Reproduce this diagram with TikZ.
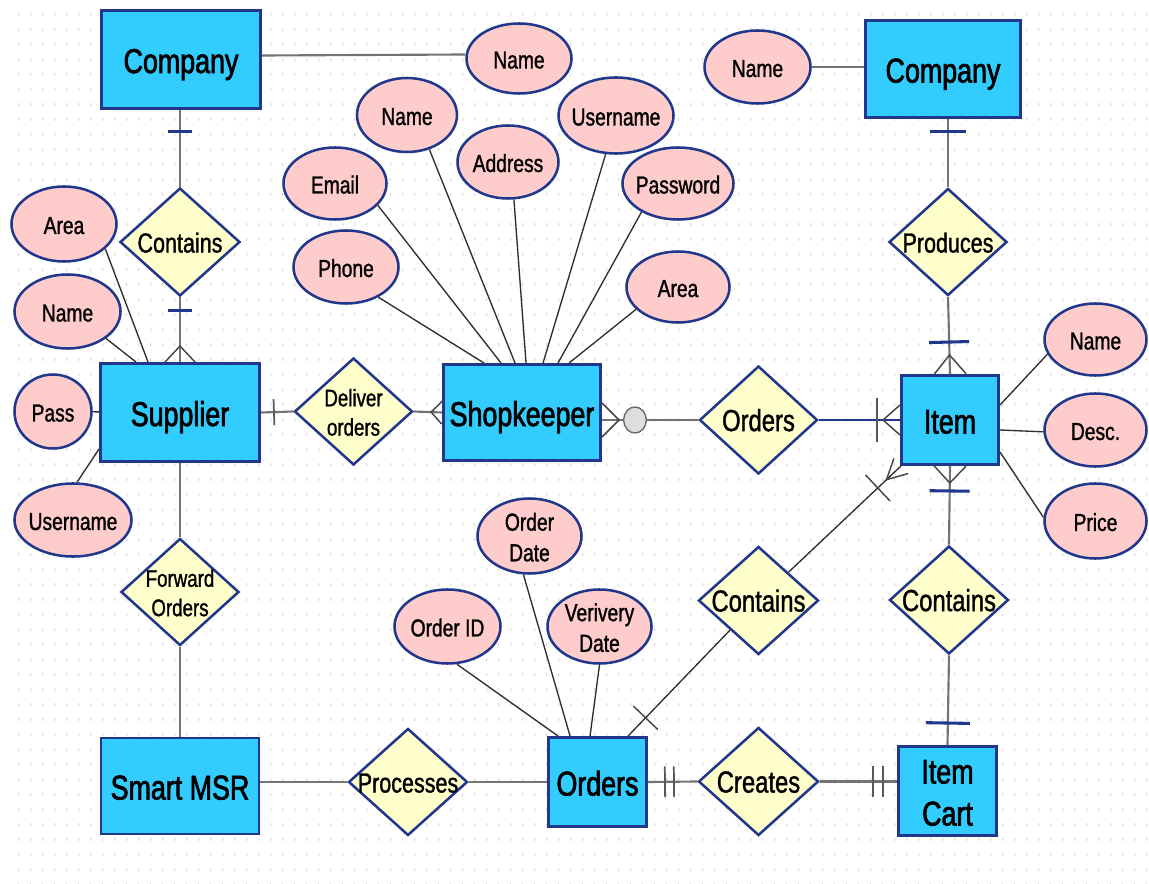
\documentclass[tikz,border=0pt]{standalone}
\usepackage{fontspec}
\setmainfont{Liberation Sans}[FakeStretch=0.78, FakeBold=1.2]
\newfontfamily\entfont{Liberation Sans}[FakeStretch=0.78, FakeBold=2]
\usetikzlibrary{shapes.geometric,calc}

\definecolor{entfill}{RGB}{51,204,255}
\definecolor{relfill}{RGB}{255,255,204}
\definecolor{attfill}{RGB}{255,204,204}
\definecolor{navy}{RGB}{33,55,140}
\definecolor{dotc}{RGB}{218,218,218}
\definecolor{wirec}{RGB}{115,115,115}
\definecolor{ink}{RGB}{45,45,45}

% centred label that does not influence the shape size
\newcommand\lbl[1]{\makebox[0pt]{\raisebox{-0.39em}[0pt][0pt]{\begin{tabular}{@{}c@{}}#1\end{tabular}}}}

% crow's foot at end #1 of a line towards #2: depth #3, half spread #4
\newcommand\crowfoot[4]{\draw[foot] ($(#1)!#4!90:(#2)$) -- ($(#1)!#3!(#2)$) -- ($(#1)!#4!-90:(#2)$);}
% bar across a line from #1 towards #2, at distance #3, half length #4, style #5
\newcommand\barmark[5]{%
  \path ($(#1)!#3!(#2)$) coordinate (bm);
  \draw[#5] ($(bm)!#4!90:(#2)$) -- ($(bm)!#4!-90:(#2)$);}

\tikzset{
  ent/.style 2 args={rectangle, draw=navy, line width=2.2pt, fill=entfill,
    minimum width=#1*0.75pt, minimum height=#2*0.75pt, inner sep=0pt,
    font=\entfont\fontsize{25.8}{31.5}\selectfont},
  rel/.style 2 args={diamond, draw=navy, line width=1.9pt, fill=relfill, aspect=1,
    minimum width=#1*0.75pt, minimum height=#2*0.75pt, inner sep=0pt},
  relL/.style={font=\fontsize{22.9}{28}\selectfont},
  relM/.style={font=\fontsize{20.7}{25}\selectfont},
  relS/.style={font=\fontsize{18}{22}\selectfont},
  att/.style 2 args={ellipse, draw=navy, line width=1.9pt, fill=attfill,
    minimum width=#1*0.75pt, minimum height=#2*0.75pt, inner sep=0pt,
    font=\fontsize{18.5}{23}\selectfont},
  opt/.style={ellipse, draw=black!60, line width=1pt, fill=black!13,
    minimum width=17pt, minimum height=19.5pt, inner sep=0pt},
  wire/.style={draw=wirec, line width=1.6pt},
  nline/.style={draw=navy, line width=2.2pt},
  aline/.style={draw=ink, line width=1pt},
  nbar/.style={draw=navy, line width=2.3pt},
  gbar/.style={draw=black!65, line width=1.3pt},
  foot/.style={draw=black!72, line width=1.1pt},
}

\begin{document}
\begin{tikzpicture}[x=0.75pt, y=-0.75pt]
\useasboundingbox (0,0) rectangle (1149,884);
\fill[white] (0,0) rectangle (1149,884);

% dotted drawing grid
\foreach \i in {0,...,95} {
  \fill[dotc] foreach \j in {0,...,58} {(18+12*\i,13+15*\j) rectangle ++(1,3)};
}

% ---------- entities ----------
\node[ent={159}{98}] (comp1) at (181,59.5) {\lbl{Company}};
\node[ent={155}{97}] (comp2) at (943,69) {\lbl{Company}};
\node[ent={159}{98}] (sup) at (180,412.5) {\lbl{Supplier}};
\node[ent={157}{96}] (shop) at (522,412.5) {\lbl{Shopkeeper}};
\node[ent={97}{89}] (item) at (950,420) {\lbl{Item}};
\node[ent={158}{96}] (smart) at (180,786) {\lbl{Smart MSR}};
\node[ent={98}{89}] (orders) at (597.5,782) {\lbl{Orders}};
\node[ent={98}{89}] (cart) at (947.5,791) {\lbl{Item\\Cart}};

% ---------- relationships ----------
\node[rel={120}{108}, relM] (cl) at (180,242) {\lbl{Contains}};
\node[rel={118}{107}, relS] (deliver) at (353.5,411.5) {\lbl{Deliver\\orders}};
\node[rel={118}{108}, relL] (ordrel) at (758.5,420) {\lbl{Orders}};
\node[rel={118}{107}, relM] (prod) at (948,242) {\lbl{Produces}};
\node[rel={118}{107}, relS] (fwd) at (180,592) {\lbl{Forward\\Orders}};
\node[rel={120}{108}, relL] (cmid) at (758.5,600.5) {\lbl{Contains}};
\node[rel={119}{108}, relL] (cright) at (949,600) {\lbl{Contains}};
\node[rel={119}{107}, relM] (proc) at (408,782) {\lbl{Processes}};
\node[rel={120}{108}, relL] (creates) at (758.5,781.5) {\lbl{Creates}};

% ---------- attributes ----------
\node[att={105}{70}] (name1) at (519,58.5) {\lbl{Name}};
\node[att={106}{73}] (name2) at (757.5,67) {\lbl{Name}};

\node[att={100}{74}] (kname) at (407,115) {\lbl{Name}};
\node[att={101}{73}] (kaddr) at (508,162) {\lbl{Address}};
\node[att={115}{76}] (kuser) at (616,115.5) {\lbl{Username}};
\node[att={103}{72}] (kemail) at (335,183.5) {\lbl{Email}};
\node[att={111}{72}] (kpass) at (678,183.5) {\lbl{Password}};
\node[att={105}{73}] (kphone) at (346,267) {\lbl{Phone}};
\node[att={103}{71}] (karea) at (678,287) {\lbl{Area}};

\node[att={105}{75}] (sarea) at (64,224) {\lbl{Area}};
\node[att={106}{74}] (sname) at (67.5,311.5) {\lbl{Name}};
\node[att={77}{74}] (spass) at (53,411.5) {\lbl{Pass}};
\node[att={117}{73}] (suser) at (73,520) {\lbl{Username}};

\node[att={102}{72}] (iname) at (1095.5,339.5) {\lbl{Name}};
\node[att={102}{73}] (idesc) at (1095.5,430) {\lbl{Desc.}};
\node[att={102}{75}] (iprice) at (1095.5,521) {\lbl{Price}};

\node[att={104}{75}] (odate) at (529.5,536) {\lbl{Order\\Date}};
\node[att={106}{74}] (oid) at (447.5,626.5) {\lbl{Order ID}};
\node[att={104}{74}] (overy) at (599.5,626.5) {\lbl{Verivery\\Date}};

% ---------- attribute links ----------
\draw[wire] ([yshift=3pt]comp1.east) -- ([yshift=3pt]name1.west);
\draw[wire] (name2.east) -- (name2.east -| comp2.west);

\draw[aline] (sarea.329) -- ($(sup.north west)+(49,0)$);
\draw[aline] (sname.325) -- ($(sup.north west)+(37,0)$);
\draw[aline] (spass) -- (sup);
\draw[aline] (suser.84) -- ($(sup.south west)+(0,-14)$);

\draw[aline] (kphone.317) -- ($(shop.north west)+(42,0)$);
\draw[aline] (kemail.333) -- ($(shop.north west)+(59,0)$);
\draw[aline] (kname.303) -- ($(shop.north west)+(73,0)$);
\draw[aline] (kaddr.279) -- ($(shop.north west)+(84,0)$);
\draw[aline] (kuser.255) -- ($(shop.north west)+(101,0)$);
\draw[aline] (kpass.218) -- ($(shop.north west)+(116,0)$);
\draw[aline] (karea.208) -- ($(shop.north west)+(127,0)$);

\draw[aline] (iname.197) -- ($(item.north east)+(0,31)$);
\draw[aline] (idesc.182) -- ($(item.east)+(0,10)$);
\draw[aline] (iprice.176) -- ($(item.east)+(0,32)$);

\draw[aline] (odate.261) -- ($(orders.north west)+(23,0)$);
\draw[aline] (oid.284) -- ($(orders.north west)+(11,0)$);
\draw[aline] (overy.270) -- ($(orders.north west)+(43,0)$);

% ---------- relationship links ----------
% Company -- Contains -- Supplier
\coordinate (c1b) at (comp1.south -| cl.north);
\draw[wire] (c1b) -- (cl.north);
\barmark{c1b}{cl.north}{16.5pt}{9pt}{nbar}
\draw[wire] (cl.south) -- (sup.north);
\barmark{sup.north}{cl.south}{39pt}{9pt}{nbar}
\crowfoot{sup.north}{cl.south}{12pt}{11.25pt}

% Supplier -- Deliver orders -- Shopkeeper
\draw[wire] (sup.east) -- (deliver.west);
\barmark{sup.east}{deliver.west}{9.75pt}{9.75pt}{gbar}
\draw[wire] (deliver.east) -- (shop.west);
\crowfoot{shop.west}{deliver.east}{8.25pt}{8.6pt}

% Shopkeeper -- Orders -- Item
\coordinate (shopR) at ($(shop.east)+(0,7.5)$);
\draw[wire] (shopR) -- (ordrel.west);
\crowfoot{shopR}{ordrel.west}{12.75pt}{12.75pt}
\node[opt] (zero) at ($(shopR)!24.75pt!(ordrel.west)$) {};
\draw[nline] (ordrel.east) -- (item.west);
\barmark{item.west}{ordrel.east}{17.25pt}{16.5pt}{gbar}
\crowfoot{item.west}{ordrel.east}{12.75pt}{11.25pt}

% Company -- Produces -- Item
\coordinate (c2b) at (prod.north |- comp2.south);
\draw[wire] (c2b) -- (prod.north);
\barmark{c2b}{prod.north}{9.75pt}{13.5pt}{nbar}
\draw[wire] (prod.south) -- (item.north);
\barmark{item.north}{prod.south}{24pt}{15pt}{nbar}
\crowfoot{item.north}{prod.south}{14.25pt}{12pt}

% Item -- Contains -- Item Cart
\draw[wire] (item.south) -- (cright.north);
\crowfoot{item.south}{cright.north}{12.75pt}{12pt}
\barmark{item.south}{cright.north}{18.75pt}{15pt}{nbar}
\draw[wire] (cright.south) -- (cart.north);
\barmark{cart.north}{cright.south}{16.5pt}{16.5pt}{nbar}

% Orders -- Contains -- Item
\coordinate (ordT) at ($(orders.north west)+(81,0)$);
\coordinate (itemBL) at ($(item.south west)+(1,0)$);
\draw[aline] (ordT) -- (cmid);
\draw[aline] (cmid) -- (itemBL);
\barmark{ordT}{cmid}{19pt}{12.75pt}{foot}
\barmark{itemBL}{cmid}{24pt}{13.5pt}{foot}
\crowfoot{itemBL}{cmid}{15pt}{7.8pt}

% Orders -- Creates -- Item Cart
\coordinate (cartL) at (cart.west |- creates.east);
\draw[wire] (orders.east) -- (creates.west);
\barmark{orders.east}{creates.west}{12.75pt}{11.6pt}{gbar}
\barmark{orders.east}{creates.west}{19.5pt}{11.6pt}{gbar}
\draw[wire] (creates.east) -- (cartL);
\barmark{cartL}{creates.east}{10.5pt}{11.6pt}{gbar}
\barmark{cartL}{creates.east}{18pt}{11.6pt}{gbar}

% Supplier -- Forward Orders -- Smart MSR -- Processes -- Orders
\draw[wire] (sup.south) -- (fwd.north);
\draw[wire] (fwd.south) -- (smart.north);
\coordinate (smartR) at (smart.east |- proc.west);
\draw[wire] (smartR) -- (proc.west);
\draw[wire] (proc.east) -- (orders.west);
\end{tikzpicture}
\end{document}
